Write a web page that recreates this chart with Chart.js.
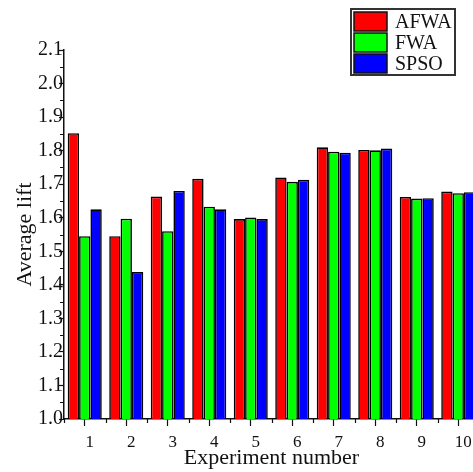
<!DOCTYPE html>
<html>
<head>
<meta charset="utf-8">
<script src="https://cdn.jsdelivr.net/npm/chart.js@4/dist/chart.umd.min.js"></script>
<style>
	body { margin: 0; overflow: hidden; background: #fff; }
</style>
</head>
<body>
<canvas id="lift" width="479" height="472"></canvas>
<script>
var experiments = ['1', '2', '3', '4', '5', '6', '7', '8', '9', '10'];
var afwa = [1.852, 1.545, 1.663, 1.716, 1.596, 1.720, 1.810, 1.802, 1.662, 1.678];
var fwa  = [1.545, 1.597, 1.560, 1.633, 1.601, 1.707, 1.797, 1.801, 1.657, 1.673];
var spso = [1.625, 1.438, 1.680, 1.625, 1.596, 1.713, 1.794, 1.806, 1.658, 1.676];
var yMinorTicks = [1.05, 1.15, 1.25, 1.35, 1.45, 1.55, 1.65, 1.75, 1.85, 1.95, 2.05];

var serif = 'Liberation Serif';
var ink = '#111';

// short ticks: halfway between y labels, and between the experiment groups
var minorTicks = {
	id: 'minorTicks',
	afterDraw: function(chart) {
		var ctx = chart.ctx;
		var x = chart.scales.x, y = chart.scales.y;
		ctx.save();
		ctx.strokeStyle = ink;
		ctx.lineWidth = 1.2;
		ctx.beginPath();
		for (var i = 0; i < yMinorTicks.length; i++) {
			var py = Math.round(y.getPixelForValue(yMinorTicks[i])) + 0.5;
			ctx.moveTo(y.right - 4, py);
			ctx.lineTo(y.right, py);
		}
		for (var k = -0.5; k < experiments.length; k++) {
			var px = Math.round(x.getPixelForValue(k)) + 0.5;
			ctx.moveTo(px, x.top);
			ctx.lineTo(px, x.top + 4);
		}
		ctx.stroke();
		ctx.restore();
	}
};

// boxed legend in the upper right corner
var boxLegend = {
	id: 'boxLegend',
	afterDraw: function(chart) {
		var ctx = chart.ctx;
		var sets = chart.data.datasets;
		ctx.save();
		ctx.fillStyle = '#fff';
		ctx.fillRect(351, 9, 104, 66);
		ctx.strokeStyle = '#333';
		ctx.lineWidth = 2;
		ctx.strokeRect(351, 9, 104, 66);
		ctx.font = '20px "' + serif + '"';
		ctx.textBaseline = 'middle';
		for (var i = 0; i < sets.length; i++) {
			var top = 12 + i * 21;
			ctx.fillStyle = sets[i].backgroundColor;
			ctx.fillRect(354, top, 33, 19);
			ctx.strokeStyle = ink;
			ctx.lineWidth = 1.5;
			ctx.strokeRect(354, top, 33, 19);
			ctx.fillStyle = ink;
			ctx.fillText(sets[i].label, 395, top + 10.5);
		}
		ctx.restore();
	}
};

function PaintLift() {
	return new Chart(document.getElementById('lift'), {
		type: 'bar',
		data: {
			labels: experiments,
			datasets: [
				{ label: 'AFWA', data: afwa, backgroundColor: '#ff0000' },
				{ label: 'FWA', data: fwa, backgroundColor: '#00ff00' },
				{ label: 'SPSO', data: spso, backgroundColor: '#0000ff' }
			]
		},
		options: {
			responsive: false,
			animation: false,
			layout: { padding: { top: 50, left: 0, right: 0, bottom: 0 } },
			datasets: {
				bar: {
					borderColor: '#000',
					borderWidth: 1.6,
					borderSkipped: false,
					inflateAmount: 0,
					categoryPercentage: 0.82,
					barPercentage: 1
				}
			},
			plugins: {
				legend: { display: false },
				tooltip: { enabled: false }
			},
			scales: {
				x: {
					afterFit: function(s) { s.height = 53; },
					grid: { offset: false, drawOnChartArea: false, tickLength: 7, tickColor: ink, tickWidth: 1.2 },
					border: { color: ink, width: 1.5 },
					ticks: { color: ink, font: { family: serif, size: 17 }, padding: 6, labelOffset: 5, maxRotation: 0 },
					title: {
						display: true,
						text: 'Experiment number',
						color: ink,
						font: { family: serif, size: 22 },
						padding: { top: 0, bottom: 1 }
					}
				},
				y: {
					min: 1.0,
					max: 2.1,
					afterFit: function(s) { s.width = 64; },
					grid: { drawOnChartArea: false, tickLength: 5, tickColor: ink, tickWidth: 1.2 },
					border: { color: ink, width: 1.5 },
					ticks: {
						stepSize: 0.1,
						padding: -4,
						color: ink,
						font: { family: serif, size: 20 },
						callback: function(v) { return v.toFixed(1); }
					},
					title: {
						display: true,
						text: 'Average lift',
						color: ink,
						font: { family: serif, size: 22 },
						padding: { top: 12, bottom: 0 }
					}
				}
			}
		},
		plugins: [minorTicks, boxLegend]
	});
}

var chart = PaintLift();
</script>
</body>
</html>
